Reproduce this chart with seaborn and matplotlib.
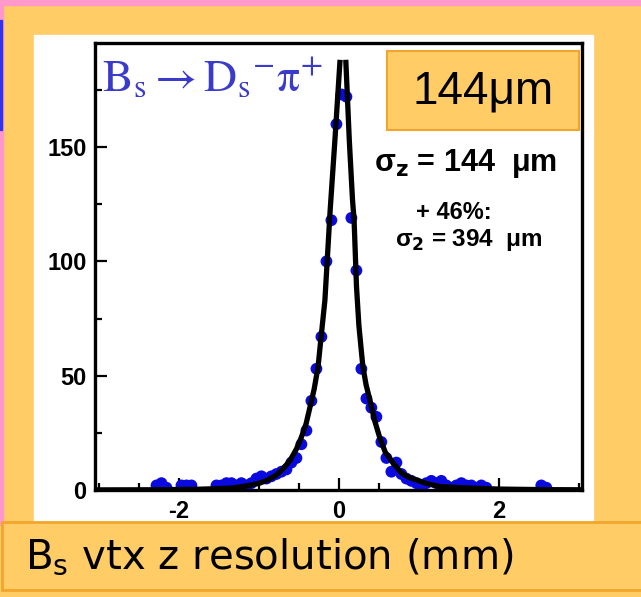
import numpy as np
import pandas as pd
import seaborn as sns
import matplotlib.pyplot as plt
from matplotlib.patches import Rectangle
from matplotlib.ticker import MultipleLocator

# Histogram points: bin centre (mm) and entries
bin_x = [-2.281, -2.219, -2.156, -1.969, -1.906, -1.844,
         -1.531, -1.469, -1.406, -1.344, -1.281, -1.219, -1.156, -1.094, -1.031,
         -0.969, -0.906, -0.844, -0.781, -0.719, -0.656, -0.594, -0.531, -0.469,
         -0.406, -0.344, -0.281, -0.219, -0.156, -0.094, -0.031,
         0.031, 0.094, 0.156, 0.219, 0.281, 0.344, 0.406, 0.469, 0.531, 0.594,
         0.656, 0.719, 0.781, 0.844, 0.906, 0.969, 1.031, 1.094, 1.156, 1.219,
         1.281, 1.344, 1.406, 1.469, 1.531, 1.594, 1.656, 1.719, 1.781, 1.844,
         2.531, 2.594]
bin_n = [2, 3, 1, 2, 2, 2,
         2, 2, 3, 3, 2, 3, 2, 3, 5,
         6, 5, 6, 7, 8, 9, 12, 14, 20,
         26, 39, 53, 67, 100, 118, 160,
         173, 172, 119, 96, 53, 40, 36, 32, 21, 14,
         8, 12, 7, 5, 4, 3, 2, 3, 4, 3,
         4, 2, 1, 2, 3, 2, 2, 1, 2, 1,
         2, 1]

# Fit curve (left and right of the peak)
fit_left_x = [-3.0, -2.3, -1.8, -1.5, -1.32, -1.15, -0.99, -0.88, -0.78, -0.70,
              -0.61, -0.53, -0.47, -0.41, -0.36, -0.31, -0.26, -0.24, -0.175,
              -0.11, -0.05, 0.0125]
fit_left_y = [0.05, 0.1, 0.3, 0.6, 0.9, 1.8, 3.0, 4.5, 6.6, 9.2,
              13, 18, 23, 29, 36.5, 44, 54, 61, 83,
              122, 153, 187]
fit_right_x = [0.0875, 0.13, 0.17, 0.19, 0.22, 0.25, 0.28, 0.30, 0.34, 0.39,
               0.45, 0.51, 0.58, 0.68, 0.78, 0.87, 0.97, 1.1, 1.26, 1.6,
               2.0, 2.6, 3.0]
fit_right_y = [187, 153, 127, 118, 89, 72, 61, 54, 46, 39,
               30, 23, 16.5, 11.7, 7.5, 5.6, 4.4, 2.8, 1.5, 0.9,
               0.4, 0.15, 0.1]

x_ticks = [-2, 0, 2]
y_ticks = [0, 50, 100, 150]

W, H = 641, 597
ORANGE = '#FFCC66'
EDGE = '#F2A52C'
BLUE_DOT = '#0A0AE0'


def fx(px):
    return px / W


def fy(py):
    return 1 - py / H


plt.rcParams['axes.unicode_minus'] = False

fig = plt.figure(figsize=(W / 100, H / 100), dpi=100, facecolor=ORANGE)

# slide decorations
fig.patches.append(Rectangle((0, fy(5)), 1, 5 / H, transform=fig.transFigure,
                             color='#FF99CC', zorder=-2))
fig.patches.append(Rectangle((0, fy(525)), 3 / W, 520 / H, transform=fig.transFigure,
                             color='#FF99CC', zorder=-2))
fig.patches.append(Rectangle((0, fy(130)), 2 / W, 110 / H, transform=fig.transFigure,
                             color='#3333EE', zorder=-2))
fig.patches.append(Rectangle((fx(34), fy(524)), (593 - 34) / W, (524 - 35) / H,
                             transform=fig.transFigure, color='white', zorder=-1))

ax = fig.add_axes([fx(95), fy(490), (582 - 95) / W, (490 - 43) / H], zorder=1)
ax.set_facecolor('white')

sns.scatterplot(x=bin_x, y=bin_n, ax=ax, color=BLUE_DOT, s=72,
                edgecolor='none', zorder=2)
sns.lineplot(x=fit_left_x, y=fit_left_y, ax=ax, color='black', lw=3.8,
             sort=False, estimator=None, zorder=3)
sns.lineplot(x=fit_right_x, y=fit_right_y, ax=ax, color='black', lw=3.8,
             sort=False, estimator=None, zorder=3)

ax.set_xlim(-3.05, 3.04)
ax.set_ylim(0, 195.5)
ax.set_xticks(x_ticks)
ax.set_yticks(y_ticks)
ax.xaxis.set_minor_locator(MultipleLocator(0.5))
ax.yaxis.set_minor_locator(MultipleLocator(25))
ax.tick_params(which='both', direction='in', top=False, right=False,
               width=1.6, colors='black')
ax.tick_params(which='major', length=8.5)
ax.tick_params(which='minor', length=5)
ax.tick_params(axis='y', pad=6)
ax.tick_params(axis='x', pad=7)
for lab in ax.get_xticklabels() + ax.get_yticklabels():
    lab.set_fontfamily('Liberation Sans')
    lab.set_fontweight('bold')
    lab.set_fontsize(17)
for sp in ax.spines.values():
    sp.set_linewidth(2.4)
    sp.set_color('black')
ax.set_xlabel('')
ax.set_ylabel('')

# decay title
fig.text(fx(102), fy(92), r'$\mathrm{B_s \rightarrow D_s{}^{-}\pi^{+}}$',
         math_fontfamily='stix', color='#3B3BCB', fontsize=33, va='baseline',
         zorder=6)

# resolution box
fig.patches.append(Rectangle((fx(387), fy(130)), (579 - 387) / W, (130 - 51) / H,
                             transform=fig.transFigure, facecolor=ORANGE,
                             edgecolor=EDGE, lw=1.5, zorder=5))
fig.text(fx(483), fy(92), '144\u03bcm', family='Liberation Sans', fontsize=33,
         ha='center', va='center', zorder=6)

fig.text(fx(374), fy(163), '\u03c3$_\\mathbf{z}$ = 144  \u03bcm',
         math_fontfamily='dejavusans', family='Liberation Sans',
         fontweight='bold', fontsize=22, va='center', zorder=6)
fig.text(fx(454), fy(212), '+ 46%:', family='Liberation Sans',
         fontweight='bold', fontsize=17, ha='center', va='center', zorder=6)
fig.text(fx(469), fy(240), '\u03c3$_\\mathbf{2}$ = 394  \u03bcm',
         math_fontfamily='dejavusans', family='Liberation Sans',
         fontweight='bold', fontsize=17.5, ha='center', va='center', zorder=6)

# axis caption box
fig.patches.append(Rectangle((fx(2), fy(590)), (W + 4) / W, (590 - 522) / H,
                             transform=fig.transFigure, facecolor=ORANGE,
                             edgecolor=EDGE, lw=2, zorder=5))
fig.text(fx(25), fy(557), r'B$_\mathrm{s}$ vtx z resolution (mm)',
         family='DejaVu Sans', math_fontfamily='dejavusans', fontsize=29,
         va='center', zorder=6)

fig.savefig('out.png', dpi=100, facecolor=ORANGE)
